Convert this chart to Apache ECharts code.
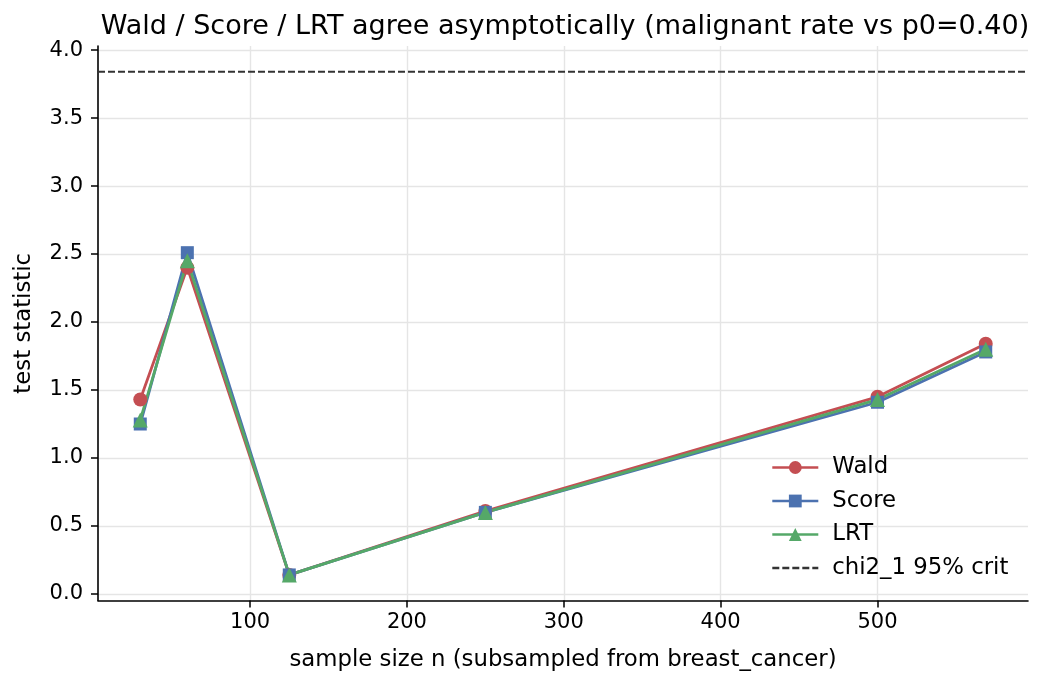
<!DOCTYPE html>
<html>
<head>
<meta charset="utf-8">
<script src="https://cdn.jsdelivr.net/npm/echarts@6/dist/echarts.min.js"></script>
<style>
  html, body { margin: 0; padding: 0; background: #fff; }
  #main { width: 1043px; height: 685px; }
</style>
</head>
<body>
<div id="main"></div>
<script>
// sample sizes and the three test statistics
var sampleSizes = [30, 60, 125, 250, 500, 569];
var waldValues  = [1.43, 2.40, 0.14, 0.61, 1.45, 1.84];
var scoreValues = [1.25, 2.51, 0.14, 0.60, 1.41, 1.78];
var lrtValues   = [1.28, 2.45, 0.14, 0.60, 1.43, 1.80];
var critValue = 3.84;
var xTicks = [100, 200, 300, 400, 500];
var yTicks = [0, 0.5, 1, 1.5, 2, 2.5, 3, 3.5, 4];
var xMin = 3.05, xMax = 595.95;
var yMin = -0.048, yMax = 4.03;

function pairs(xs, ys) {
  return xs.map(function (x, i) { return [x, ys[i]]; });
}

var font = 'DejaVu Sans, sans-serif';
var chart = echarts.init(document.getElementById('main'));

function lineSeries(name, color, symbol, size, values) {
  return {
    name: name,
    type: 'line',
    data: pairs(sampleSizes, values),
    symbol: symbol,
    symbolSize: size,
    color: color,
    lineStyle: { color: color, width: 2.8 },
    itemStyle: { color: color },
    z: 3
  };
}

chart.setOption({
  animation: false,
  backgroundColor: '#fff',
  title: {
    text: 'Wald / Score / LRT agree asymptotically (malignant rate vs p0=0.40)',
    left: 560,
    textAlign: 'center',
    top: 8,
    textStyle: { fontFamily: font, fontSize: 27, fontWeight: 'normal', color: '#000' }
  },
  grid: { left: 98, right: 15, top: 46, bottom: 84.5 },
  legend: {
    orient: 'vertical',
    left: 766,
    top: 451,
    itemWidth: 46,
    itemHeight: 16,
    itemGap: 10.5,
    lineStyle: { width: 2.6 },
    textStyle: { fontFamily: font, fontSize: 22.8, color: '#000', padding: [0, 0, 0, 9] },
    data: ['Wald', 'Score', 'LRT', { name: 'chi2_1 95% crit', itemStyle: { opacity: 0 } }]
  },
  xAxis: {
    type: 'value',
    min: xMin,
    max: xMax,
    name: 'sample size n (subsampled from breast_cancer)',
    nameLocation: 'middle',
    nameGap: 48,
    nameTextStyle: { fontFamily: font, fontSize: 22.8, color: '#000' },
    axisLine: { show: true, onZero: false, lineStyle: { color: '#000', width: 1.6 } },
    axisTick: { show: true, length: 7, customValues: xTicks, lineStyle: { color: '#000', width: 1.5 } },
    axisLabel: { customValues: xTicks, fontFamily: font, fontSize: 21, color: '#000', margin: 12 },
    splitLine: { show: true, customValues: xTicks, lineStyle: { color: '#e5e5e5', width: 1.4 } }
  },
  yAxis: {
    type: 'value',
    min: yMin,
    max: yMax,
    name: 'test statistic',
    nameLocation: 'middle',
    nameGap: 62,
    nameTextStyle: { fontFamily: font, fontSize: 22.8, color: '#000' },
    axisLine: { show: true, lineStyle: { color: '#000', width: 1.6 } },
    axisTick: { show: true, length: 7, customValues: yTicks, lineStyle: { color: '#000', width: 1.5 } },
    axisLabel: {
      customValues: yTicks, fontFamily: font, fontSize: 21, color: '#000', margin: 15,
      formatter: function (v) { return v.toFixed(1); }
    },
    splitLine: { show: true, customValues: yTicks, lineStyle: { color: '#e5e5e5', width: 1.4 } }
  },
  series: [
    lineSeries('Wald', '#C44E52', 'circle', 14, waldValues),
    lineSeries('Score', '#4C72B0', 'rect', 13, scoreValues),
    lineSeries('LRT', '#55A868', 'triangle', 15, lrtValues),
    {
      name: 'chi2_1 95% crit',
      type: 'line',
      data: [[xMin, critValue], [xMax, critValue]],
      symbol: 'none',
      color: '#333',
      lineStyle: { color: '#333', width: 2, type: [7, 3] },
      z: 2
    }
  ]
});
</script>
</body>
</html>
